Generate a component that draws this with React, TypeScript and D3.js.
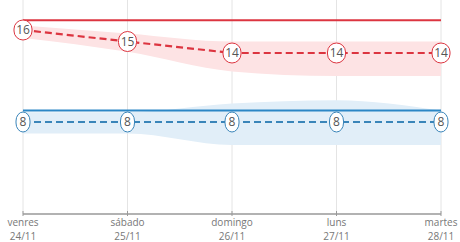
import React from "react";
import * as d3 from "d3";

const days = ["venres", "sábado", "domingo", "luns", "martes"];
const dates = ["24/11", "25/11", "26/11", "27/11", "28/11"];
const maxHigh = [16.85, 16.85, 16.85, 16.85, 16.85];
const high = [16, 15, 14, 14, 14];
const highBandLow = [15.3, 14.1, 12.4, 12, 12];
const highBandUp = [16.4, 15.7, 15, 15, 15];
const maxLow = [9, 9, 9, 9, 9];
const low = [8, 8, 8, 8, 8];
const lowBandLow = [7, 7, 6, 6, 6];
const lowBandUp = [8.85, 8.85, 9.6, 9.9, 9.0];

const W = 460;
const H = 242;

export default function App() {
  const x = d3.scalePoint<number>().domain(d3.range(days.length)).range([23, 441]);
  const y = d3.scaleLinear().domain([0, 214 / 11.5]).range([214, 0]);
  const idx = d3.range(days.length);

  const area = (lo: number[], up: number[]) =>
    d3
      .area<number>()
      .x((i) => x(i)!)
      .y0((i) => y(lo[i]))
      .y1((i) => y(up[i]))
      .curve(d3.curveMonotoneX)(idx) || "";
  const line = (v: number[]) =>
    d3
      .line<number>()
      .x((i) => x(i)!)
      .y((i) => y(v[i]))(idx) || "";

  const redC = "#dc3540";
  const blueC = "#2b86c5";
  const font = "'Open Sans', 'DejaVu Sans', sans-serif";

  const labels = (v: number[], stroke: string) =>
    idx.map((i) => {
      const t = String(v[i]);
      const w = t.length > 1 ? 18 : 14;
      const h = 20;
      return (
        <g key={i} transform={`translate(${x(i)},${y(v[i])})`}>
          <rect x={-w / 2} y={-h / 2} width={w} height={h} rx={w / 2} ry={9} fill="#fff" stroke={stroke} strokeWidth={1} />
          <text textAnchor="middle" dy="0.36em" fontSize={12} fill="#555" fontFamily={font}>
            {t}
          </text>
        </g>
      );
    });

  return (
    <svg width={W} height={H} style={{ position: "absolute", left: 0, top: 0, background: "#fff" }}>
      {idx.map((i) => (
        <line key={i} x1={x(i)} x2={x(i)} y1={0} y2={214} stroke="#e4e4e4" strokeWidth={1} />
      ))}
      <path d={area(highBandLow, highBandUp)} fill="#fde3e4" />
      <path d={area(lowBandLow, lowBandUp)} fill="#e1eef8" />
      <path d={line(maxHigh)} fill="none" stroke={redC} strokeWidth={2} />
      <path d={line(maxLow)} fill="none" stroke={blueC} strokeWidth={2} />
      <path d={line(high)} fill="none" stroke={redC} strokeWidth={2.2} strokeDasharray="7,4" />
      <path d={line(low)} fill="none" stroke="#3a85b9" strokeWidth={2.2} strokeDasharray="7,4" />
      {labels(high, redC)}
      {labels(low, "#3a85b9")}
      <line x1={23} x2={441} y1={214} y2={214} stroke="#999" strokeWidth={1.5} />
      {idx.map((i) => (
        <g key={i} transform={`translate(${x(i)},0)`}>
          <line y1={211} y2={216} stroke="#999" strokeWidth={1} />
          <text y={226} textAnchor="middle" fontSize={10} fill="#777" fontFamily={font}>
            {days[i]}
          </text>
          <text y={239.5} textAnchor="middle" fontSize={10} fill="#777" fontFamily={font}>
            {dates[i]}
          </text>
        </g>
      ))}
    </svg>
  );
}
